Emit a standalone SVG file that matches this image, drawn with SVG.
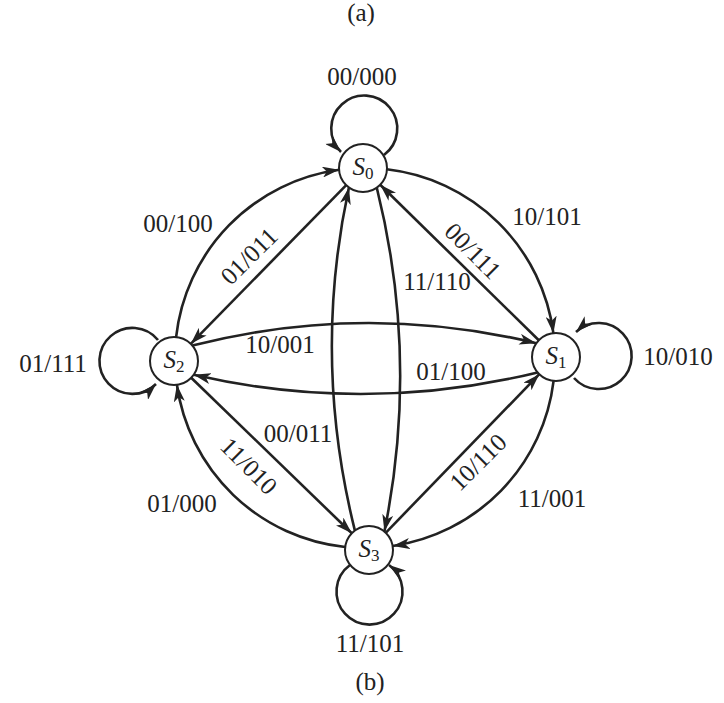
<svg xmlns="http://www.w3.org/2000/svg" width="724" height="703" viewBox="0 0 724 703">
<style>
.node circle{fill:#fff;stroke:#222;stroke-width:2}
.node text{font-family:"Liberation Serif","DejaVu Serif",serif;font-size:25px;fill:#222;text-anchor:middle}
.edges path{fill:none;stroke:#222;stroke-width:2.6;marker-end:url(#ah)}
.lbl{font-family:"Liberation Serif","DejaVu Serif",serif;font-size:25px;fill:#222;text-anchor:middle}
.rl{dominant-baseline:central}
</style>
<defs>
<marker id="ah" markerUnits="userSpaceOnUse" viewBox="0 0 17 11" refX="17" refY="5.5" markerWidth="17" markerHeight="11" orient="auto">
<path d="M0,0 L17,5.5 L0,11 L4.5,5.5 Z" fill="#222"/>
</marker>
</defs>
<rect width="724" height="703" fill="#fff"/>
<text class="lbl" x="361" y="21" font-size="19">(a)</text>
<g class="edges">
<path d="M176.1,337.2 A190,190 0 0 1 339.2,169.8"/>
<path d="M386.8,169.3 A190,190 0 0 1 553.4,333.2"/>
<path d="M553.6,380.8 A190,190 0 0 1 392.8,546"/>
<path d="M345.1,547 A190,190 0 0 1 176.9,384.8"/>
<path d="M346.2,185.2 L190.8,343.8"/>
<path d="M538.8,340.2 L380.2,184.8"/>
<path d="M191.2,377.7 L351.8,533.3"/>
<path d="M385.7,532.8 L539.3,374.2"/>
<path d="M354.9,530.6 Q312,359 348.9,187.4"/>
<path d="M376.8,187.7 Q419.4,359 384.4,531.6"/>
<path d="M192.4,345.6 Q364,301.6 536.3,343.2"/>
<path d="M537.6,372.4 Q365.7,414.4 193.7,374.8"/>
<path d="M384,155 A33,33 0 1 0 341,152"/>
<path d="M158,340 A33,33 0 1 0 156,384"/>
<path d="M574,378 A33,33 0 1 0 576,332"/>
<path d="M350,565 A33,33 0 1 0 389,565"/>
</g>
<g id="S0" class="node"><circle cx="363" cy="168" r="24"/><text x="363" y="175"><tspan font-style="italic">S</tspan><tspan dy="4" font-size="17">0</tspan></text></g>
<g id="S1" class="node"><circle cx="556" cy="357" r="24"/><text x="556" y="364"><tspan font-style="italic">S</tspan><tspan dy="4" font-size="17">1</tspan></text></g>
<g id="S2" class="node"><circle cx="174" cy="361" r="24"/><text x="174" y="368"><tspan font-style="italic">S</tspan><tspan dy="4" font-size="17">2</tspan></text></g>
<g id="S3" class="node"><circle cx="369" cy="550" r="24"/><text x="369" y="557"><tspan font-style="italic">S</tspan><tspan dy="4" font-size="17">3</tspan></text></g>
<g id="labels">
<text class="lbl" x="362" y="85">00/000</text>
<text class="lbl" x="178" y="232">00/100</text>
<text class="lbl" x="547" y="225">10/101</text>
<text class="lbl rl" transform="translate(249,256) rotate(-45)">01/011</text>
<text class="lbl rl" transform="translate(473,251) rotate(45)">00/111</text>
<text class="lbl" x="437" y="290">11/110</text>
<text class="lbl" x="280" y="353">10/001</text>
<text class="lbl" x="451" y="380">01/100</text>
<text class="lbl" x="53" y="372">01/111</text>
<text class="lbl" x="678" y="365">10/010</text>
<text class="lbl" x="298" y="442">00/011</text>
<text class="lbl rl" transform="translate(249,466) rotate(45)">11/010</text>
<text class="lbl" x="182" y="512">01/000</text>
<text class="lbl rl" transform="translate(478,462) rotate(-45)">10/110</text>
<text class="lbl" x="552" y="507">11/001</text>
<text class="lbl" x="370" y="652">11/101</text>
<text class="lbl" x="370" y="690">(b)</text>
</g>
</svg>
